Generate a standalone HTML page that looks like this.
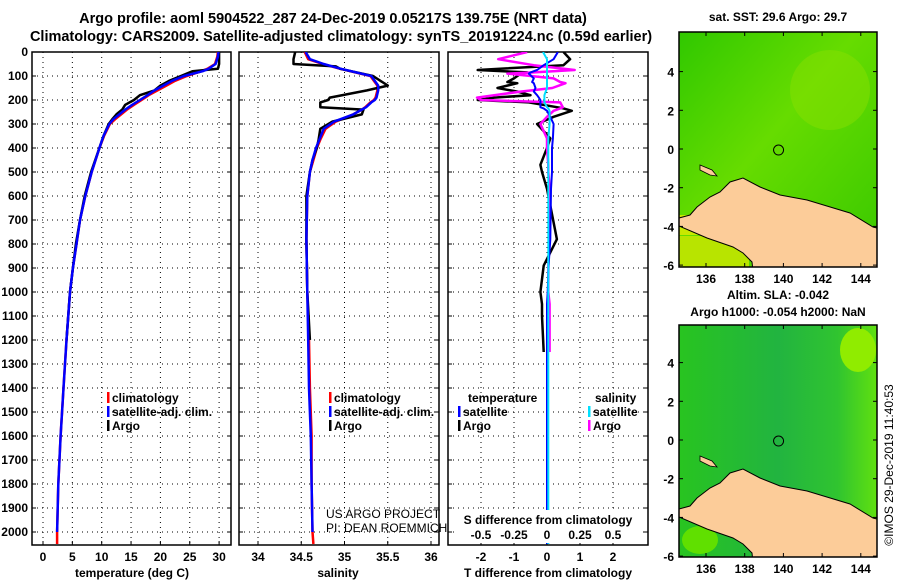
<!DOCTYPE html>
<html><head><meta charset="utf-8"><style>
html,body{margin:0;padding:0;background:#fff;}
svg{display:block;font-family:"Liberation Sans",sans-serif;}
text{font-weight:bold;fill:#000;}
</style></head><body>
<svg id="fig" width="900" height="580" viewBox="0 0 900 580" xmlns="http://www.w3.org/2000/svg">
<defs>
<linearGradient id="sstg" x1="0" y1="0" x2="1" y2="1">
<stop offset="0" stop-color="#30c800"/><stop offset="0.45" stop-color="#66dc00"/><stop offset="1" stop-color="#38c800"/></linearGradient>
<linearGradient id="slag" x1="0" y1="0" x2="1" y2="0">
<stop offset="0" stop-color="#28c420"/><stop offset="0.5" stop-color="#22b440"/><stop offset="0.8" stop-color="#30c430"/><stop offset="1" stop-color="#60e010"/></linearGradient>
<clipPath id="c1"><rect x="32" y="52" width="199" height="493"/></clipPath>
<clipPath id="c2"><rect x="239" y="52" width="200" height="493"/></clipPath>
<clipPath id="c3"><rect x="448" y="52" width="200" height="493"/></clipPath>
<clipPath id="m1"><rect x="679" y="32" width="198" height="235"/></clipPath>
<clipPath id="m2"><rect x="679" y="325" width="198" height="232"/></clipPath>
</defs>
<text x="333" y="23" font-size="14.5" text-anchor="middle">Argo profile: aoml 5904522_287 24-Dec-2019 0.05217S 139.75E (NRT data)</text>
<text x="341" y="41" font-size="14.5" text-anchor="middle">Climatology: CARS2009. Satellite-adjusted climatology: synTS_20191224.nc (0.59d earlier)</text>
<g id="g1"></g>
<g id="g2"></g>
<g id="g3"></g>
<g id="maps"></g>
<text transform="translate(893,465) rotate(-90)" font-size="12" text-anchor="middle" style="font-weight:normal">©IMOS 29-Dec-2019 11:40:53</text>
</svg>
<script>
const depths=[0,20,50,70,80,100,120,140,160,180,200,220,240,260,280,300,350,400,500,600,700,800,900,1000,1200,1400,1600,1800,2000,2050];
const tempClim=[29.8,29.7,29.3,28,27,24.5,22.5,21,19.5,18,16.8,15.5,14.3,13.3,12.3,11.4,10.4,9.6,8.3,7.2,6.3,5.7,5.1,4.6,4.0,3.5,3.0,2.6,2.4,2.4];
const tempSat=[29.9,29.8,29.4,28.2,27.2,24,22,20.5,19,17.8,16.5,15.2,14,13,12,11.3,10.3,9.6,8.3,7.2,6.3,5.7,5.1,4.6,4.0,3.5,3.0,2.6,2.4,null];
const tempArgo=[30,30,30,29.8,25.5,23.5,21.5,20,19,16.5,15.5,14,13.5,12.5,11.8,11.2,10.3,9.6,8.2,7.1,6.3,5.6,5.1,4.6,4.0,null,null,null,null,null];
const salDepths=[0,30,50,60,70,100,140,160,190,200,210,230,240,260,290,320,365,400,450,500,600,780,1000,1200,1400,1600,1800,2000,2050];
const salClim=[34.54,34.58,34.75,34.85,34.95,35.3,35.38,35.38,35.36,35.34,35.3,35.24,35.2,35.1,34.9,34.78,34.72,34.68,34.64,34.6,34.57,34.56,34.57,34.59,34.6,34.62,34.62,34.63,34.64];
const salSat=[34.55,34.6,34.76,34.86,34.96,35.31,35.39,35.39,35.37,35.35,35.31,35.25,35.2,35.1,34.88,34.76,34.71,34.67,34.63,34.6,34.57,34.56,34.57,34.58,34.59,34.61,34.62,34.63,null];
const salArgo=[34.43,34.41,34.41,34.9,34.95,35.33,35.5,35.26,34.83,34.81,34.72,34.72,35.22,35.2,34.86,34.72,34.7,34.68,34.63,34.6,34.56,34.56,34.57,34.6,null,null,null,null,null];
const diffDepths=[0,30,55,75,85,90,110,125,130,150,165,180,190,200,210,230,235,245,270,300,360,400,470,500,570,780,890,1000,1050,1100,1250,1600,2000,2050];
const dTArgo=[0.5,0.7,0.5,-2.1,-0.6,-0.8,-1.0,-1.2,-0.9,-1.5,-0.9,-0.5,-1.6,-2.1,-0.55,0.3,0.5,0.75,0.2,-0.3,0.1,0,-0.2,-0.15,0,0.3,-0.1,-0.2,-0.15,-0.15,-0.1,null,null,null];
const dSArgo=[-0.15,-0.37,-0.1,0.21,-0.1,-0.3,0.05,0.1,0.14,0.04,-0.2,-0.4,-0.53,-0.5,0.1,0.12,0.1,0.05,0,-0.05,0,0,0.01,0.01,0.02,0.02,0.01,0.01,0.02,0.02,0.02,null,null,null];
const dTSat=[0.33,0.2,-0.1,-0.3,-0.5,-0.55,-0.4,-0.45,-0.4,-0.35,-0.4,-0.3,-0.25,-0.2,-0.2,-0.2,-0.1,0,0.1,0.2,0.18,0.15,0.15,0.15,0.12,0.1,0.05,0.02,0,0,0,0,0,0];
const dSSat=[-0.03,0,0,0,0,0,0,0,0,0,-0.01,-0.02,-0.02,-0.02,-0.02,0,0.01,0.02,0.02,0.02,0.01,0.01,0.01,0.01,0.01,0.01,0.01,0.01,0.01,0.01,0.01,0.01,0.01,0.01];
const depthTicks=[0,100,200,300,400,500,600,700,800,900,1000,1100,1200,1300,1400,1500,1600,1700,1800,1900,2000];
const tTicks=[0,5,10,15,20,25,30];
const sTicks=[34,34.5,35,35.5,36];
const sTickLabels=["34","34.5","35","35.5","36"];
const dtTicks=[-2,-1,0,1,2];
const dsTicks=[-0.5,-0.25,0,0.25,0.5];
const dsTickLabels=["-0.5","-0.25","0","0.25","0.5"];
const latTicks=[4,2,0,-2,-4,-6];
const lonTicks=[136,138,140,142,144];
const argoLon=139.75, argoLat=-0.05217;

const NS="http://www.w3.org/2000/svg";
function mk(tag,attrs,parent){const e=document.createElementNS(NS,tag);for(const k in attrs)e.setAttribute(k,attrs[k]);parent.appendChild(e);return e;}
const TOP=52,BOT=545;
const yD=d=>52+d*0.24;
const xT=t=>43+t*5.87;
const xS=s=>258+(s-34)*86.5;
const xDT=v=>547+v*33;
const xDS=v=>547+v*132;

function frame(g,x0,x1,gridXs){
  depthTicks.forEach(d=>{const l=mk('line',{x1:x0,x2:x1,y1:yD(d),y2:yD(d),stroke:'#000','stroke-width':1,'stroke-dasharray':'1,4'},g);
  
  mk('line',{x1:x0,x2:x0+4,y1:yD(d),y2:yD(d),stroke:'#000'},g);mk('line',{x1:x1-4,x2:x1,y1:yD(d),y2:yD(d),stroke:'#000'},g);});
  gridXs.forEach(x=>{const l=mk('line',{x1:x,x2:x,y1:TOP,y2:BOT,stroke:'#000','stroke-width':1,'stroke-dasharray':'1,4'},g);
  
  mk('line',{x1:x,x2:x,y1:BOT-4,y2:BOT,stroke:'#000'},g);});
  const r=mk('rect',{x:x0,y:TOP,width:x1-x0,height:BOT-TOP,fill:'none',stroke:'#000','stroke-width':1.5},g);
  
}
function line(g,xs,ys,xf,color,w,clip,name){
  let d='',pen=false;
  for(let i=0;i<xs.length;i++){if(xs[i]==null||ys[i]==null){pen=false;continue;}
    d+=(pen?'L':'M')+xf(xs[i]).toFixed(1)+','+yD(ys[i]).toFixed(1);pen=true;}
  const p=mk('path',{d:d,fill:'none',stroke:color,'stroke-width':w,'clip-path':'url(#'+clip+')','stroke-linejoin':'round'},g);
  
}
function txt(g,x,y,s,size,anchor,name){const t=mk('text',{x:x,y:y,'font-size':size,'text-anchor':anchor||'start'},g);t.textContent=s;
  return t;}
function legItem(g,x,y,color,label,name){const m=mk('rect',{x:x,y:y-10,width:2.5,height:11,fill:color},g);txt(g,x+5,y,label,12,'start',name);}

// panel 1
const g1=document.getElementById('g1');
frame(g1,32,231,tTicks.map(xT));
depthTicks.forEach(d=>txt(g1,28,yD(d)+4,String(d),12,'end','depth-tick-label'));
tTicks.forEach(t=>txt(g1,xT(t),561,String(t),12,'middle','temperature-tick-label'));
txt(g1,132,577,'temperature (deg C)',12,'middle','x-axis-title-temperature');
line(g1,tempClim,depths,xT,'#ff0000',2.5,'c1','temperature-climatology-line');
line(g1,tempArgo,depths,xT,'#000',2.5,'c1','temperature-argo-line');
line(g1,tempSat,depths,xT,'#0000ff',2.5,'c1','temperature-satellite-line');
legItem(g1,107,402,'#f00','climatology','legend-climatology');
legItem(g1,107,416,'#00f','satellite-adj. clim.','legend-satellite-adj');
legItem(g1,107,430,'#000','Argo','legend-argo');

// panel 2
const g2=document.getElementById('g2');
frame(g2,239,439,sTicks.map(xS));
sTicks.forEach((s,i)=>txt(g2,xS(s),561,sTickLabels[i],12,'middle','salinity-tick-label'));
txt(g2,338,577,'salinity',12,'middle','x-axis-title-salinity');
line(g2,salClim,salDepths,xS,'#ff0000',2.5,'c2','salinity-climatology-line');
line(g2,salArgo,salDepths,xS,'#000',2.5,'c2','salinity-argo-line');
line(g2,salSat,salDepths,xS,'#0000ff',2.5,'c2','salinity-satellite-line');
legItem(g2,329,402,'#f00','climatology','legend-climatology');
legItem(g2,329,416,'#00f','satellite-adj. clim.','legend-satellite-adj');
legItem(g2,329,430,'#000','Argo','legend-argo');
const c1=txt(g2,326,518,'US ARGO PROJECT',12,'start','credit-project');c1.setAttribute('style','font-weight:normal');
const c2=txt(g2,326,532,'PI: DEAN ROEMMICH',12,'start','credit-pi');c2.setAttribute('style','font-weight:normal');

// panel 3
const g3=document.getElementById('g3');
frame(g3,448,648,dtTicks.map(xDT));
line(g3,dTArgo,diffDepths,xDT,'#000',2.5,'c3','tdiff-argo-line');
line(g3,dSArgo,diffDepths,xDS,'#ff00ff',2.5,'c3','sdiff-argo-line');
line(g3,dTSat,diffDepths,xDT,'#0000ff',2,'c3','tdiff-satellite-line');
line(g3,dSSat,diffDepths,xDS,'#00e0ff',2,'c3','sdiff-satellite-line');
txt(g3,468,402,'temperature',12,'start','legend-temperature-header');
txt(g3,595,402,'salinity',12,'start','legend-salinity-header');
legItem(g3,458,416,'#00f','satellite','legend-t-satellite');
legItem(g3,458,430,'#000','Argo','legend-t-argo');
legItem(g3,588,416,'#00e0ff','satellite','legend-s-satellite');
legItem(g3,588,430,'#f0f','Argo','legend-s-argo');
mk('rect',{x:455,y:510,width:186,height:33,fill:'#fff'},g3);
txt(g3,548,524,'S difference from climatology',12,'middle','s-axis-title');
dsTicks.forEach((v,i)=>txt(g3,xDS(v),539,dsTickLabels[i],12,'middle','s-diff-tick-label'));
dtTicks.forEach(v=>txt(g3,xDT(v),561,String(v),12,'middle','t-diff-tick-label'));
txt(g3,548,577,'T difference from climatology',12,'middle','t-axis-title');

// maps
const gm=document.getElementById('maps');
function map(top,bottom,lat0y,grad,clip,title1,title2,name){
  const x0=679,x1=877,sc=19.35;
  const xL=l=>706+(l-136)*sc, yL=l=>lat0y-l*sc;
  const g=mk('g',{},gm);
  const bg=mk('rect',{x:x0,y:top,width:x1-x0,height:bottom-top,fill:'url(#'+grad+')'},g);
  
  const cg=mk('g',{'clip-path':'url(#'+clip+')'},g);
  const off=lat0y-149;
  if(grad==='sstg'){
    mk('rect',{x:679,y:215+off,width:40,height:20,fill:'#c8e800'},cg);
    mk('rect',{x:679,y:236+off,width:70,height:35,fill:'#b8e400'},cg);
    mk('ellipse',{cx:830,cy:90,rx:40,ry:40,fill:'#88e000',opacity:0.5},cg);
  } else {
    mk('ellipse',{cx:858,cy:350,rx:18,ry:22,fill:'#90ec00'},cg);
    mk('ellipse',{cx:700,cy:540,rx:18,ry:14,fill:'#60e000'},cg);
  }
  const pts=[[679,226],[707,238],[733,247],[743,253],[752,262],[754,280],[877,280],[877,228],[873,227],[850,213],[807,200],[780,195],[760,187],[743,178],[730,182],[720,192],[710,197],[697,207],[690,215],[679,218]];
  const land=mk('polygon',{points:pts.map(p=>p[0]+','+(p[1]+off)).join(' '),fill:'#fccc99',stroke:'#000','stroke-width':1},cg);
  
  mk('polygon',{points:[[700,165],[712,170],[717,176],[710,175],[700,170]].map(p=>p[0]+','+(p[1]+off)).join(' '),fill:'#fccc99',stroke:'#000','stroke-width':0.8},cg);
  mk('rect',{x:x0,y:top,width:x1-x0,height:bottom-top,fill:'none',stroke:'#000','stroke-width':1.5},g);
  latTicks.forEach(l=>{const y=yL(l);if(y<top-2||y>bottom+3)return;txt(g,674,y+5,String(l),12,'end','lat-tick-label');
    mk('line',{x1:x0,x2:x0+4,y1:y,y2:y,stroke:'#000'},g);mk('line',{x1:x1-4,x2:x1,y1:y,y2:y,stroke:'#000'},g);});
  lonTicks.forEach(l=>{const x=xL(l);txt(g,x,bottom+16,String(l),12,'middle','lon-tick-label');
    mk('line',{x1:x,x2:x,y1:top,y2:top+4,stroke:'#000'},g);mk('line',{x1:x,x2:x,y1:bottom-4,y2:bottom,stroke:'#000'},g);});
  const c=mk('circle',{cx:xL(argoLon),cy:yL(argoLat),r:5,fill:'none',stroke:'#000','stroke-width':1},g);
  
  if(title1)txt(g,778,top-(title2?26:11),title1,12,'middle','map-title');
  if(title2)txt(g,778,top-9,title2,12,'middle','map-subtitle');
}
map(32,267,149,'sstg','m1','sat. SST: 29.6 Argo: 29.7',null,'sst-map');
map(325,557,440,'slag','m2','Altim. SLA: -0.042','Argo h1000: -0.054 h2000: NaN','sla-map');
</script>
</body></html>
